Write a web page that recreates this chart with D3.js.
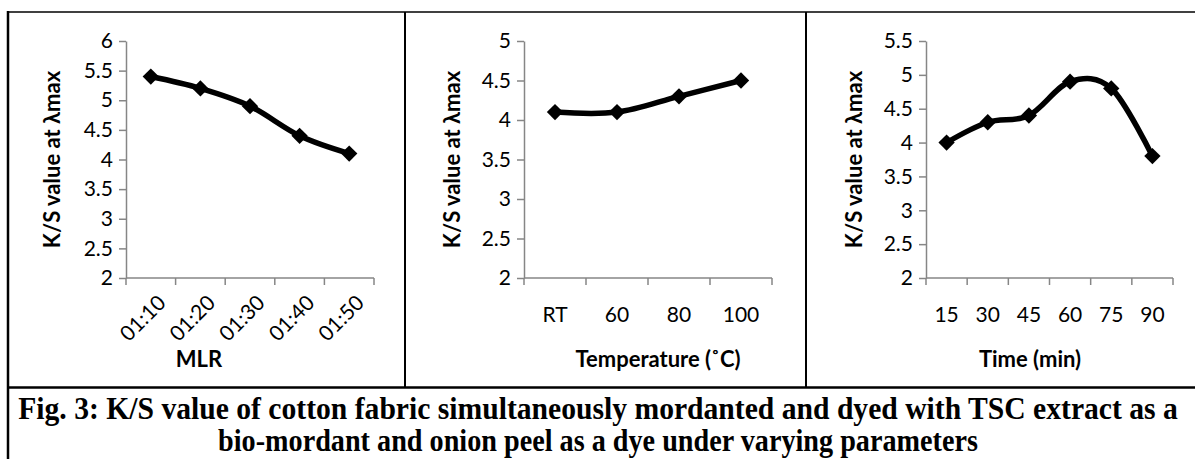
<!DOCTYPE html>
<html>
<head>
<meta charset="utf-8">
<script src="https://cdn.jsdelivr.net/npm/d3@7"></script>
<style>
  body { margin: 0; background: #fff; }
  svg { display: block; }
  .tick text { font-family: Lato, "Open Sans", sans-serif; font-size: 21px; fill: #000; }
  .axis path, .axis line { stroke: #868686; stroke-width: 1.5; }
  .axis-title { font-family: Lato, "Open Sans", sans-serif; font-weight: bold; font-size: 22px; fill: #000; }
  .caption { font-family: "Liberation Serif", "Times New Roman", serif; font-weight: bold; font-size: 31px; fill: #000; }
</style>
</head>
<body>
<div id="chart"></div>
<script>
// data
const mlrLabels = ["01:10", "01:20", "01:30", "01:40", "01:50"];
const mlrValues = [5.4, 5.2, 4.9, 4.4, 4.1];

const tempLabels = ["RT", "60", "80", "100"];
const tempValues = [4.1, 4.1, 4.3, 4.5];

const timeLabels = ["15", "30", "45", "60", "75", "90"];
const timeValues = [4.0, 4.3, 4.4, 4.9, 4.8, 3.8];

const yTitle = "K/S value at λmax";
const captionLines = [
    "Fig. 3: K/S value of cotton fabric simultaneously mordanted and dyed with TSC extract as a",
    "bio-mordant and onion peel as a dye under varying parameters"
];

const svg_width = 1195;
const svg_height = 459;

const svg = d3.select("#chart").append("svg")
    .attr("width", svg_width)
    .attr("height", svg_height);

// panels: plot box + settings
const panels = [
    { labels: mlrLabels, values: mlrValues, yMax: 6, x0: 126, x1: 374, yTitleX: 52,
      xTitle: "MLR", xTitleX: 199, rotate: true },
    { labels: tempLabels, values: tempValues, yMax: 5, x0: 524, x1: 772, yTitleX: 452,
      xTitle: "Temperature (˚C)", xTitleX: 658, rotate: false },
    { labels: timeLabels, values: timeValues, yMax: 5.5, x0: 926, x1: 1173, yTitleX: 854,
      xTitle: "Time (min)", xTitleX: 1030, rotate: false }
];
const plotTop = 41, plotBottom = 278;

function drawPanel(p) {
    const g = svg.append("g");
    const xScale = d3.scaleBand().domain(p.labels).range([p.x0, p.x1]);
    const yScale = d3.scaleLinear([2, p.yMax], [plotBottom, plotTop]);

    const yTicks = d3.range(2, p.yMax + 0.01, 0.5);
    const yAxis = d3.axisLeft(yScale).tickValues(yTicks)
        .tickFormat(d => String(d)).tickSizeInner(7).tickSizeOuter(0).tickPadding(6);
    g.append("g").attr("class", "axis")
        .attr("transform", `translate(${p.x0},0)`)
        .call(yAxis);

    // category axis, ticks on band boundaries like Excel
    const xAxisG = g.append("g").attr("class", "axis")
        .attr("transform", `translate(0,${plotBottom})`);
    xAxisG.append("line").attr("x1", p.x0).attr("x2", p.x1).attr("y1", 0).attr("y2", 0);
    const bounds = p.labels.map(d => xScale(d)).concat([p.x1]);
    xAxisG.selectAll(".bt").data(bounds).join("line")
        .attr("class", "bt")
        .attr("x1", d => d).attr("x2", d => d).attr("y1", 0).attr("y2", 7);

    const labG = xAxisG.selectAll(".tick").data(p.labels).join("g").attr("class", "tick");
    if (p.rotate) {
        labG.attr("transform", d => `translate(${xScale(d) + xScale.bandwidth() / 2 + 11},${21}) rotate(-45)`)
            .append("text").attr("text-anchor", "end").attr("dy", "0.35em").text(d => d);
    } else {
        labG.attr("transform", d => `translate(${xScale(d) + xScale.bandwidth() / 2},${37})`)
            .append("text").attr("text-anchor", "middle").attr("dy", "0.35em").text(d => d);
    }

    // axis titles
    g.append("text").attr("class", "axis-title")
        .attr("transform", `translate(${p.yTitleX},${(plotTop + plotBottom) / 2}) rotate(-90)`)
        .attr("text-anchor", "middle").attr("dy", "0.35em").text(yTitle);
    g.append("text").attr("class", "axis-title")
        .attr("x", p.xTitleX).attr("y", 367).attr("text-anchor", "middle").text(p.xTitle);

    const pts = p.labels.map((d, i) => [xScale(d) + xScale.bandwidth() / 2, yScale(p.values[i])]);
    const line = d3.line().curve(d3.curveCardinal.tension(0));
    g.append("path").attr("d", line(pts))
        .attr("fill", "none").attr("stroke", "#000").attr("stroke-width", 5.5)
        .attr("stroke-linejoin", "round");
    g.selectAll(".marker").data(pts).join("path")
        .attr("class", "marker")
        .attr("transform", d => `translate(${d[0]},${d[1]})`)
        .attr("d", d3.symbol(d3.symbolDiamond2, 170)())
        .attr("fill", "#000");
}

panels.forEach(drawPanel);

// table borders
const borders = svg.append("g").attr("stroke", "#000").attr("fill", "none");
borders.append("line").attr("x1", 8).attr("x2", 1195).attr("y1", 12).attr("y2", 12).attr("stroke-width", 1.5);
borders.append("line").attr("x1", 8).attr("x2", 8).attr("y1", 11).attr("y2", 459).attr("stroke-width", 2.5);
borders.append("line").attr("x1", 405).attr("x2", 405).attr("y1", 12).attr("y2", 387).attr("stroke-width", 2);
borders.append("line").attr("x1", 806).attr("x2", 806).attr("y1", 12).attr("y2", 387).attr("stroke-width", 2);
borders.append("line").attr("x1", 8).attr("x2", 1195).attr("y1", 387.5).attr("y2", 387.5).attr("stroke-width", 2.5);

// caption, squeezed horizontally to the width it has in the picture
const capWidths = [1160, 760];
svg.selectAll(".caption").data(captionLines).join("text")
    .attr("class", "caption")
    .attr("text-anchor", "middle")
    .text(d => d)
    .attr("transform", function(d, i) {
        const sx = capWidths[i] / this.getComputedTextLength();
        return `translate(598,${419 + i * 32}) scale(${sx},1)`;
    });
</script>
</body>
</html>
